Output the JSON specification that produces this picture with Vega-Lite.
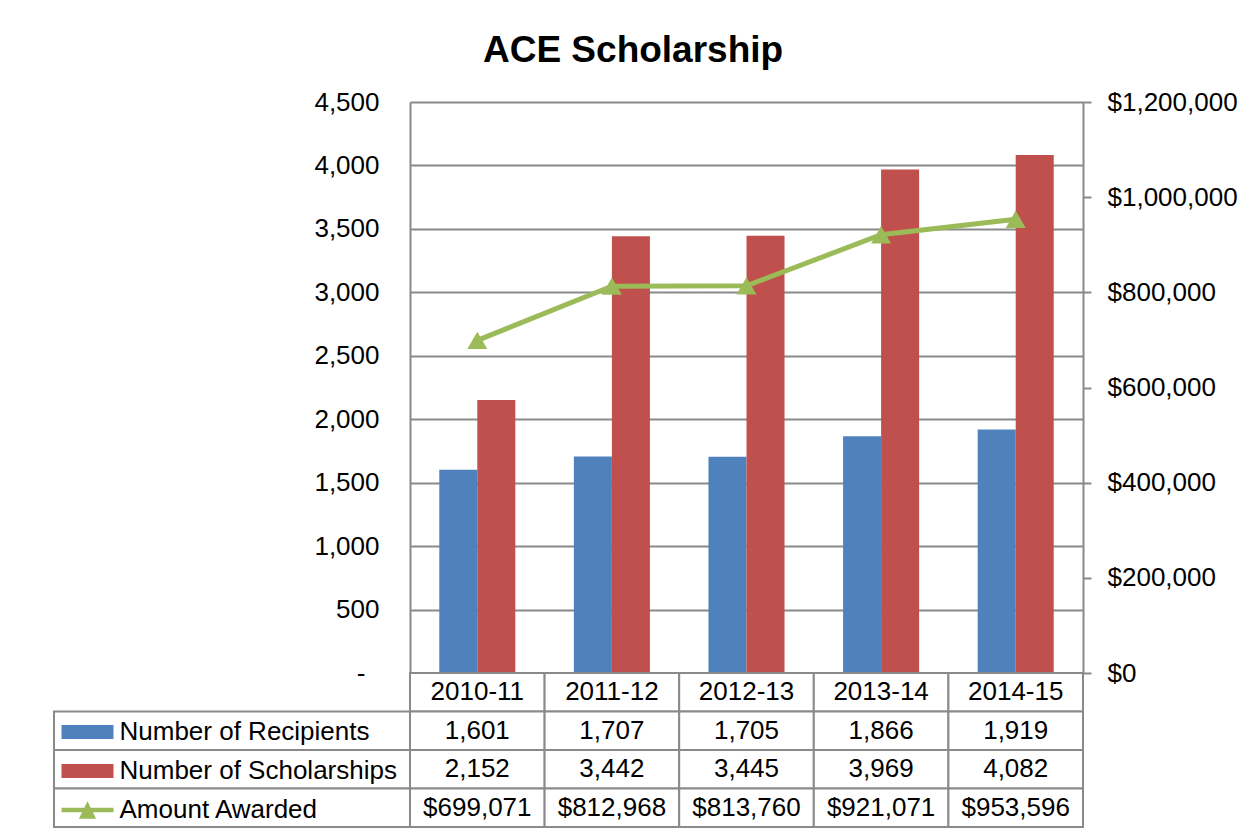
{
  "$schema": "https://vega.github.io/schema/vega-lite/v6.json",
  "background": "white",
  "padding": {"left": 53, "top": 32, "right": 0, "bottom": 0},
  "title": {"text": "ACE Scholarship", "fontSize": 37, "font": "Liberation Sans", "fontWeight": "bold", "color": "black", "anchor": "middle", "dx": -12, "offset": 19},
  "datasets": {
    "main": [
      {"year": "2010-11", "Number of Recipients": 1601, "Number of Scholarships": 2152, "Amount Awarded": 699071},
      {"year": "2011-12", "Number of Recipients": 1707, "Number of Scholarships": 3442, "Amount Awarded": 812968},
      {"year": "2012-13", "Number of Recipients": 1705, "Number of Scholarships": 3445, "Amount Awarded": 813760},
      {"year": "2013-14", "Number of Recipients": 1866, "Number of Scholarships": 3969, "Amount Awarded": 921071},
      {"year": "2014-15", "Number of Recipients": 1919, "Number of Scholarships": 4082, "Amount Awarded": 953596}
    ]
  },
  "columns": 2,
  "spacing": 0,
  "bounds": "flush",
  "concat": [
    {
      "width": 356,
      "height": 571,
      "data": {"values": []},
      "mark": "text",
      "encoding": {}
    },
    {
      "width": 673,
      "height": 571,
      "data": {"name": "main"},
      "layer": [
        {
          "transform": [{"fold": ["Number of Recipients", "Number of Scholarships"], "as": ["series", "count"]}],
          "mark": {"type": "bar"},
          "encoding": {
            "x": {"field": "year", "type": "nominal", "scale": {"paddingInner": 0, "paddingOuter": 0}, "axis": null},
            "xOffset": {"field": "series", "type": "nominal", "scale": {"paddingInner": 0, "paddingOuter": 0.77}},
            "y": {
              "field": "count", "type": "quantitative",
              "scale": {"domain": [0, 4500], "nice": false},
              "axis": {
                "orient": "left", "title": null,
                "values": [0, 500, 1000, 1500, 2000, 2500, 3000, 3500, 4000, 4500],
                "grid": true, "gridColor": "#8a8a8a", "gridWidth": 2,
                "domain": true, "domainColor": "#8a8a8a", "domainWidth": 2,
                "ticks": false, "tickSize": 0,
                "labelPadding": {"condition": {"test": "datum.value === 0", "value": 45}, "value": 31},
                "labelFontSize": 26, "labelFont": "Liberation Sans", "labelColor": "black",
                "labelExpr": "datum.value === 0 ? '-' : format(datum.value, ',')"
              }
            },
            "color": {
              "field": "series", "type": "nominal",
              "scale": {"domain": ["Number of Recipients", "Number of Scholarships", "Amount Awarded"], "range": ["#4F81BD", "#C0504D", "#9BBB59"]},
              "legend": {
                "orient": "none", "legendX": 7.5, "legendY": 604,
                "title": null, "direction": "vertical",
                "labelFontSize": 26, "labelFont": "Liberation Sans", "labelColor": "black", "labelLimit": 400,
                "symbolSize": 2704, "rowPadding": -0.5, "labelOffset": 6,
                "encode": {
                  "symbols": {
                    "update": {
                      "shape": {"signal": "datum.value === 'Amount Awarded' ? 'M-1,-0.09L1,-0.09L1,0.09L-1,0.09ZM-0.33,0.34L0,-0.34L0.33,0.34Z' : 'M-1,-0.27L1,-0.27L1,0.27L-1,0.27Z'"},
                      "fill": {"signal": "datum.value === 'Amount Awarded' ? '#9BBB59' : datum.value === 'Number of Recipients' ? '#4F81BD' : '#C0504D'"},
                      "stroke": {"value": "transparent"},
                      "strokeWidth": {"value": 0},
                      "opacity": {"value": 1},
                      "fillOpacity": {"value": 1}
                    }
                  }
                }
              }
            }
          }
        },
        {
          "mark": {"type": "line", "strokeWidth": 5, "point": {"shape": "triangle-up", "size": 400, "filled": true, "opacity": 1}},
          "encoding": {
            "x": {"field": "year", "type": "nominal"},
            "y": {
              "field": "Amount Awarded", "type": "quantitative",
              "scale": {"domain": [0, 1200000], "nice": false},
              "axis": {
                "orient": "right", "title": null,
                "values": [0, 200000, 400000, 600000, 800000, 1000000, 1200000],
                "format": "$,.0f",
                "grid": false,
                "domain": true, "domainColor": "#8a8a8a", "domainWidth": 2,
                "ticks": true, "tickSize": 8, "tickColor": "#8a8a8a", "tickWidth": 2,
                "labelPadding": 16, "labelFontSize": 26, "labelFont": "Liberation Sans", "labelColor": "black"
              }
            },
            "color": {"datum": "Amount Awarded", "type": "nominal"}
          }
        }
      ],
      "resolve": {"scale": {"y": "independent"}}
    },
    {
      "width": 356,
      "height": 154,
      "data": {"name": "main"},
      "transform": [
        {"fold": ["Number of Recipients", "Number of Scholarships", "Amount Awarded"], "as": ["row", "value"]},
        {"aggregate": [{"op": "count", "as": "n"}], "groupby": ["row"]}
      ],
      "mark": {"type": "rect", "fill": "white", "stroke": "#8a8a8a", "strokeWidth": 2},
      "encoding": {
        "y": {"field": "row", "type": "nominal", "scale": {"domain": ["Year", "Number of Recipients", "Number of Scholarships", "Amount Awarded"], "paddingInner": 0, "paddingOuter": 0}, "axis": null}
      }
    },
    {
      "width": 673,
      "height": 154,
      "data": {"name": "main"},
      "layer": [
        {
          "mark": {"type": "rect", "fill": "white", "stroke": "#8a8a8a", "strokeWidth": 2},
          "encoding": {
            "x": {"field": "year", "type": "nominal", "scale": {"paddingInner": 0, "paddingOuter": 0}, "axis": null},
            "y": {"datum": "Year", "type": "nominal", "scale": {"domain": ["Year", "Number of Recipients", "Number of Scholarships", "Amount Awarded"], "paddingInner": 0, "paddingOuter": 0}, "axis": null}
          }
        },
        {
          "mark": {"type": "text", "fontSize": 26, "font": "Liberation Sans", "color": "black"},
          "encoding": {
            "x": {"field": "year", "type": "nominal"},
            "y": {"datum": "Year", "type": "nominal"},
            "text": {"field": "year"}
          }
        },
        {
          "transform": [{"fold": ["Number of Recipients", "Number of Scholarships", "Amount Awarded"], "as": ["row", "value"]}],
          "mark": {"type": "rect", "fill": "white", "stroke": "#8a8a8a", "strokeWidth": 2},
          "encoding": {
            "x": {"field": "year", "type": "nominal"},
            "y": {"field": "row", "type": "nominal"}
          }
        },
        {
          "transform": [
            {"fold": ["Number of Recipients", "Number of Scholarships", "Amount Awarded"], "as": ["row", "value"]},
            {"filter": "datum.row !== 'Amount Awarded'"}
          ],
          "mark": {"type": "text", "fontSize": 26, "font": "Liberation Sans", "color": "black"},
          "encoding": {
            "x": {"field": "year", "type": "nominal"},
            "y": {"field": "row", "type": "nominal"},
            "text": {"field": "value", "type": "quantitative", "format": ","}
          }
        },
        {
          "transform": [
            {"fold": ["Number of Recipients", "Number of Scholarships", "Amount Awarded"], "as": ["row", "value"]},
            {"filter": "datum.row === 'Amount Awarded'"}
          ],
          "mark": {"type": "text", "fontSize": 26, "font": "Liberation Sans", "color": "black"},
          "encoding": {
            "x": {"field": "year", "type": "nominal"},
            "y": {"field": "row", "type": "nominal"},
            "text": {"field": "value", "type": "quantitative", "format": "$,"}
          }
        }
      ]
    }
  ],
  "config": {
    "view": {"stroke": null},
    "font": "Liberation Sans"
  }
}
